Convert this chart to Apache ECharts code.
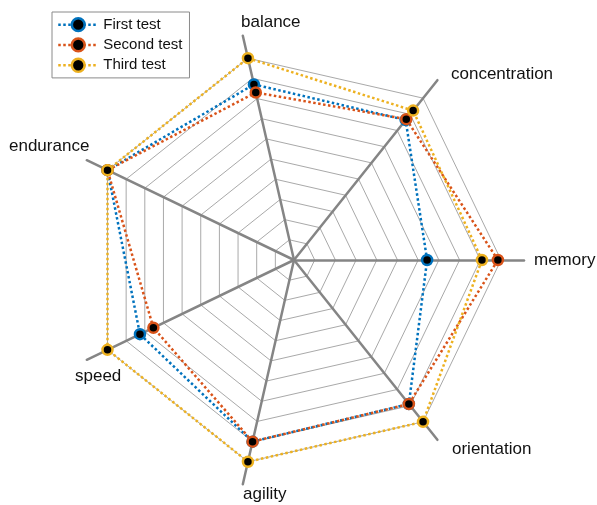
<!DOCTYPE html>
<html>
<head>
<meta charset="utf-8">
<script src="https://cdn.jsdelivr.net/npm/echarts/dist/echarts.min.js"></script>
<style>
  html, body {margin: 0; padding: 0; background: #fff;}
  #chart {width: 597px; height: 505px;}
</style>
</head>
<body>
<div id="chart"></div>
<script>
// axes, counter-clockwise from the right
const indicators = ['memory', 'concentration', 'balance', 'endurance', 'speed', 'agility', 'orientation'];
const testNames = ['First test', 'Second test', 'Third test'];
const firstTest = [6.43, 8.65, 8.7, 10, 8.26, 9.0, 8.9];
const secondTest = [9.85, 8.7, 8.3, 10, 7.54, 9.0, 8.9];
const thirdTest = [9.08, 9.23, 10, 10, 10, 10, 10];
const colors = ['#0072BD', '#D95319', '#EDB120'];
const maxValue = 10;

// where the axis names sit (left edge, middle)
const namePos = [[534, 260], [451, 74], [241, 22], [9, 146], [75, 376], [243, 494], [452, 449]];

const font = '"Liberation Sans", Arial, sans-serif';
const center = [294, 260];

const chart = echarts.init(document.getElementById('chart'), null, {renderer: 'canvas'});

const seriesData = [firstTest, secondTest, thirdTest];

const option = {
  animation: false,
  backgroundColor: '#fff',
  legend: {
    orient: 'vertical',
    left: 52,
    top: 12,
    padding: [5, 7, 5, 5],
    itemGap: 5,
    itemWidth: 40,
    itemHeight: 16,
    backgroundColor: '#fff',
    borderColor: '#8a8a8a',
    borderWidth: 1,
    textStyle: {fontSize: 15, color: '#111', fontFamily: font},
    data: testNames.map((n, i) => ({
      name: n,
      itemStyle: {color: '#000', borderColor: colors[i], borderWidth: 2.5},
      lineStyle: {color: colors[i], width: 2.5, type: [2.5, 2.5]}
    }))
  },
  grid: {show: false},
  xAxis: {show: false, type: 'category', data: []},
  yAxis: {show: false, type: 'value'},
  radar: [
    {
      center: center,
      radius: 207,
      startAngle: 0,
      shape: 'polygon',
      splitNumber: 10,
      indicator: indicators.map(n => ({name: n, min: 0, max: maxValue})),
      axisName: {show: false},
      axisLine: {show: false},
      axisTick: {show: false},
      axisLabel: {show: false},
      splitArea: {show: false},
      splitLine: {lineStyle: {color: '#a9a9a9', width: 1}}
    },
    {
      center: center,
      radius: 230,
      startAngle: 0,
      shape: 'polygon',
      splitNumber: 1,
      indicator: indicators.map(n => ({name: n, min: 0, max: maxValue})),
      axisName: {show: false},
      axisLine: {lineStyle: {color: '#858585', width: 2.5}},
      axisTick: {show: false},
      axisLabel: {show: false},
      splitArea: {show: false},
      splitLine: {show: false}
    }
  ],
  series: [
    {
      type: 'radar',
      radarIndex: 0,
      z: 3,
      symbol: 'circle',
      symbolSize: 10,
      data: seriesData.map((vals, i) => ({
        name: testNames[i],
        value: vals,
        lineStyle: {color: colors[i], width: 2.5, type: [2.5, 2.5]},
        itemStyle: {color: '#000', borderColor: colors[i], borderWidth: 2.5}
      }))
    }
  ].concat(testNames.map((n, i) => ({
    // only here to give the legend a line + marker icon
    type: 'line',
    name: n,
    data: [],
    symbol: 'circle',
    symbolSize: 10,
    lineStyle: {color: colors[i], width: 2.5, type: 'dotted'},
    itemStyle: {color: '#000', borderColor: colors[i], borderWidth: 2.5}
  }))),
  graphic: indicators.map((n, i) => ({
    type: 'text',
    x: namePos[i][0],
    y: namePos[i][1],
    style: {
      text: n,
      font: '17px ' + font,
      fill: '#111',
      align: 'left',
      verticalAlign: 'middle'
    }
  }))
};

chart.setOption(option);
</script>
</body>
</html>
